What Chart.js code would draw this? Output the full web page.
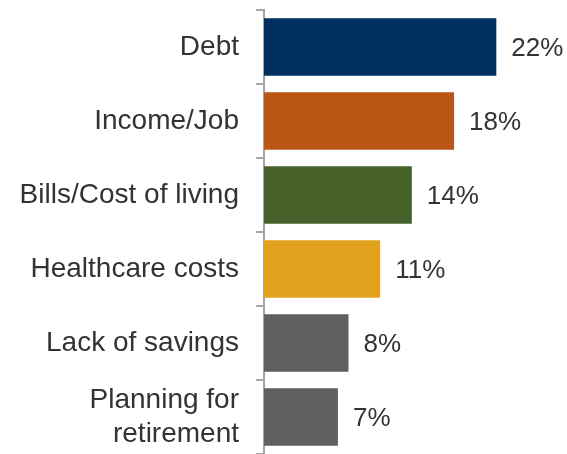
<!DOCTYPE html>
<html>
<head>
<meta charset="utf-8">
<script src="https://cdn.jsdelivr.net/npm/chart.js@4/dist/chart.umd.min.js"></script>
<style>
  html, body { margin: 0; padding: 0; background: #ffffff; }
  #wrap { width: 567px; height: 454px; }
</style>
</head>
<body>
<div id="wrap"><canvas id="c" width="567" height="454"></canvas></div>
<script>
// Top financial concerns, share of respondents (%)
const categories = ['Debt', 'Income/Job', 'Bills/Cost of living', 'Healthcare costs', 'Lack of savings', ['Planning for', 'retirement']];
const values = [22, 18, 14, 11, 8, 7];
const barColors = ['#00305F', '#BA5717', '#46612A', '#E2A21E', '#5F5F5F', '#5F5F5F'];

const FONT = '"Liberation Sans", Arial, sans-serif';

// Writes the percentage just past the end of each bar
const valueLabels = {
  id: 'valueLabels',
  afterDatasetsDraw(chart) {
    const ctx = chart.ctx;
    const meta = chart.getDatasetMeta(0);
    ctx.save();
    ctx.font = '26px ' + FONT;
    ctx.fillStyle = '#333333';
    ctx.textAlign = 'left';
    ctx.textBaseline = 'middle';
    meta.data.forEach((bar, i) => {
      ctx.fillText(values[i] + '%', bar.x + 15, bar.y + 2);
    });
    ctx.restore();
  }
};

new Chart(document.getElementById('c'), {
  type: 'bar',
  data: {
    labels: categories,
    datasets: [{
      data: values,
      backgroundColor: barColors,
      borderWidth: 0,
      barPercentage: 0.78,
      categoryPercentage: 1
    }]
  },
  options: {
    indexAxis: 'y',
    responsive: false,
    animation: false,
    layout: { padding: { top: 10, right: 39, bottom: 0, left: 0 } },
    plugins: {
      legend: { display: false },
      tooltip: { enabled: false }
    },
    scales: {
      x: {
        display: false,
        min: 0,
        max: 25
      },
      y: {
        afterFit(scale) {
          scale.width = 264;
          scale.paddingTop = 0;
          scale.paddingBottom = 0;
        },
        border: { display: true, color: '#a6a6a6', width: 2 },
        grid: {
          display: true,
          drawOnChartArea: false,
          drawTicks: true,
          tickLength: 8,
          color: '#a6a6a6',
          lineWidth: 2,
          offset: true
        },
        ticks: {
          padding: 17,
          color: '#333333',
          font: { family: FONT, size: 28 }
        }
      }
    }
  },
  plugins: [valueLabels]
});
</script>
</body>
</html>
